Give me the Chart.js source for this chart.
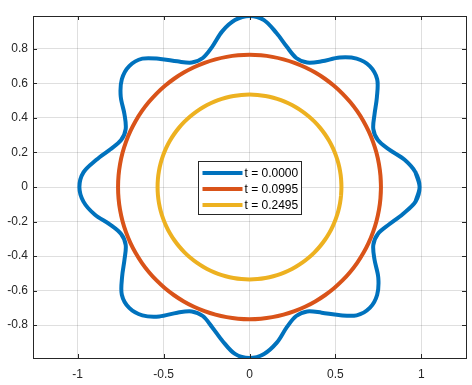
<!DOCTYPE html>
<html>
<head>
<meta charset="utf-8">
<script src="https://cdn.jsdelivr.net/npm/chart.js@4.4.0/dist/chart.umd.min.js"></script>
<style>
  html, body { margin: 0; padding: 0; background: #fff; }
</style>
</head>
<body>
<canvas id="shape-chart" width="472" height="385"></canvas>
<script>
  // angles (degrees) where the curves were read off the plot
  // (runs one step past each end so the closed curve has no corner at 0)
  const angles = [-5, 0, 5, 10, 15, 20, 25, 30, 35, 40, 45, 50, 55, 60, 65, 70, 75, 80, 85,
    90, 95, 100, 105, 110, 115, 120, 125, 130, 135, 140, 145, 150, 155, 160, 165, 170, 175,
    180, 185, 190, 195, 200, 205, 210, 215, 220, 225, 230, 235, 240, 245, 250, 255, 260, 265,
    270, 275, 280, 285, 290, 295, 300, 305, 310, 315, 320, 325, 330, 335, 340, 345, 350, 355, 360, 365];

  // radius of the t = 0 curve at each angle
  const radiusT0 = [0.97,
    0.99, 0.97, 0.915, 0.84, 0.795, 0.795, 0.84, 0.905, 0.97,
    0.99, 0.97, 0.915, 0.84, 0.795, 0.795, 0.84, 0.905, 0.97,
    0.99, 0.97, 0.915, 0.84, 0.795, 0.795, 0.84, 0.905, 0.97,
    0.99, 0.97, 0.915, 0.84, 0.795, 0.795, 0.84, 0.905, 0.97,
    0.99, 0.97, 0.915, 0.84, 0.795, 0.795, 0.84, 0.905, 0.97,
    0.99, 0.97, 0.915, 0.84, 0.795, 0.795, 0.84, 0.905, 0.97,
    0.99, 0.97, 0.915, 0.84, 0.795, 0.795, 0.84, 0.905, 0.97,
    0.99, 0.97, 0.915, 0.84, 0.795, 0.795, 0.84, 0.905, 0.97,
    0.99, 0.97];
  // the two later curves are circles
  const radiusT1 = 0.765;
  const radiusT2 = 0.535;

  const seriesLabels = ['t = 0.0000', 't = 0.0995', 't = 0.2495'];
  const seriesColors = ['#0072BD', '#D95319', '#EDB120'];
  const xTicks = [-1, -0.5, 0, 0.5, 1];
  const yTicks = [-0.8, -0.6, -0.4, -0.2, 0, 0.2, 0.4, 0.6, 0.8];

  function toPoints(radius) {
    return angles.map(function(a, i) {
      const r = Array.isArray(radius) ? radius[i] : radius;
      const rad = a * Math.PI / 180;
      return { x: r * Math.cos(rad), y: r * Math.sin(rad) };
    });
  }

  const fontFamily = '"Liberation Sans", Arial, Helvetica, sans-serif';
  const axisColor = '#262626';

  // box, inward tick marks and the legend in the middle of the axes
  const matlabAxes = {
    id: 'matlabAxes',
    afterDatasetsDraw: function(chart) {
      const ctx = chart.ctx;
      const a = chart.chartArea;
      const xs = chart.scales.x, ys = chart.scales.y;
      ctx.save();
      ctx.strokeStyle = axisColor;
      ctx.lineWidth = 1;
      ctx.beginPath();
      xTicks.forEach(function(v) {
        const px = Math.round(xs.getPixelForValue(v)) + 0.5;
        ctx.moveTo(px, a.bottom); ctx.lineTo(px, a.bottom - 4);
        ctx.moveTo(px, a.top); ctx.lineTo(px, a.top + 4);
      });
      yTicks.forEach(function(v) {
        const py = Math.round(ys.getPixelForValue(v)) + 0.5;
        ctx.moveTo(a.left, py); ctx.lineTo(a.left + 4, py);
        ctx.moveTo(a.right, py); ctx.lineTo(a.right - 4, py);
      });
      ctx.stroke();
      ctx.strokeRect(Math.round(a.left) + 0.5, Math.round(a.top) + 0.5,
        Math.round(a.right - a.left), Math.round(a.bottom - a.top));

      // legend
      const w = 103, h = 53;
      const left = Math.round((a.left + a.right) / 2 - w / 2) + 0.5;
      const top = Math.round((a.top + a.bottom) / 2 - h / 2) + 0.5;
      ctx.fillStyle = '#fff';
      ctx.fillRect(left, top, w, h);
      ctx.strokeStyle = axisColor;
      ctx.strokeRect(left, top, w, h);
      ctx.font = '12px ' + fontFamily;
      ctx.textBaseline = 'middle';
      ctx.textAlign = 'left';
      chart.data.datasets.forEach(function(ds, i) {
        const y = top + 11.5 + i * 16;
        ctx.strokeStyle = ds.borderColor;
        ctx.lineWidth = 4;
        ctx.beginPath();
        ctx.moveTo(left + 4, y);
        ctx.lineTo(left + 44, y);
        ctx.stroke();
        ctx.fillStyle = '#000';
        ctx.fillText(ds.label, left + 46, y + 0.5);
      });
      ctx.restore();
    }
  };

  const ctx = document.getElementById('shape-chart').getContext('2d');
  const shapeChart = new Chart(ctx, {
    type: 'scatter',
    data: {
      datasets: [
        { label: seriesLabels[0], data: toPoints(radiusT0), borderColor: seriesColors[0], order: 3 },
        { label: seriesLabels[1], data: toPoints(radiusT1), borderColor: seriesColors[1], order: 2 },
        { label: seriesLabels[2], data: toPoints(radiusT2), borderColor: seriesColors[2], order: 1 }
      ]
    },
    options: {
      responsive: false,
      animation: false,
      devicePixelRatio: 1,
      showLine: true,
      elements: {
        point: { radius: 0, hoverRadius: 0 },
        line: { borderWidth: 4, tension: 0.33, fill: false, capBezierPoints: false }
      },
      layout: { padding: { top: 16, right: 6, left: 0, bottom: 0 } },
      scales: {
        x: {
          type: 'linear',
          min: -1.26,
          max: 1.26,
          afterBuildTicks: function(s) { s.ticks = xTicks.map(function(v) { return { value: v }; }); },
          afterFit: function(s) { s.height = 27; },
          grid: { color: 'rgba(38,38,38,0.15)', drawTicks: false },
          border: { display: false },
          ticks: {
            padding: 9,
            color: axisColor,
            font: { family: fontFamily, size: 12 },
            maxRotation: 0,
            callback: function(v) { return String(v); }
          }
        },
        y: {
          type: 'linear',
          min: -0.99,
          max: 0.99,
          afterBuildTicks: function(s) { s.ticks = yTicks.map(function(v) { return { value: v }; }); },
          afterFit: function(s) { s.width = 33; },
          grid: { color: 'rgba(38,38,38,0.15)', drawTicks: false },
          border: { display: false },
          ticks: {
            padding: 5,
            color: axisColor,
            font: { family: fontFamily, size: 12 },
            callback: function(v) { return String(v); }
          }
        }
      },
      plugins: {
        legend: { display: false },
        tooltip: { enabled: false }
      }
    },
    plugins: [matlabAxes]
  });
</script>
</body>
</html>
